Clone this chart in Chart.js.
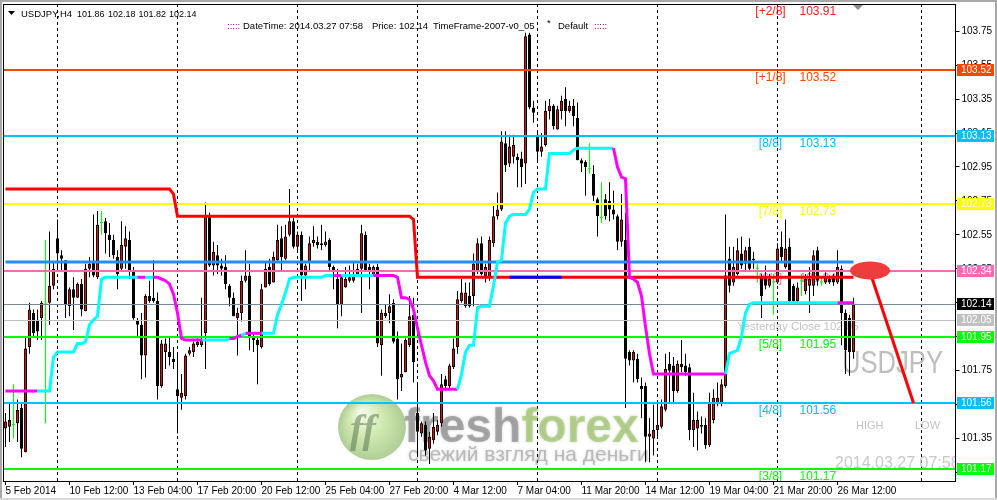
<!DOCTYPE html>
<html>
<head>
<meta charset="utf-8">
<title>USDJPY,H4</title>
<script src="https://cdn.jsdelivr.net/npm/chart.js@4.4.1/dist/chart.umd.min.js"></script>
<style>
    html, body { margin: 0; padding: 0; background: #fff; }
    #wrap { width: 997px; height: 500px; }
</style>
</head>
<body>
<div id="wrap"><canvas id="chart" width="997" height="500"></canvas></div>
<script>
let myChart = null;

// USDJPY H4 bars, 5 Feb 2014 20:00 .. 27 Mar 2014 04:00
const openPrices = [
    101.41, 101.42, 101.43, 101.44, 101.53, 101.27, 101.89, 102.09, 102.05, 102.06,
    102.14, 102.15, 102.25, 102.53, 102.43, 102.40, 102.13, 102.23, 102.18, 102.26,
    102.10, 102.35, 102.39, 102.30, 102.62, 102.63, 102.55, 102.52, 102.42, 102.35,
    102.48, 102.52, 102.34, 102.05, 102.02, 101.84, 102.19, 102.18, 102.16, 101.66,
    101.86, 101.86, 101.82, 101.64, 101.59, 101.60, 101.85, 101.86, 101.90, 101.90,
    101.97, 102.66, 102.37, 102.43, 102.37, 102.36, 102.25, 102.18, 102.06, 102.09,
    102.28, 102.31, 101.95, 101.93, 101.89, 102.24, 102.36, 102.27, 102.40, 102.53,
    102.41, 102.55, 102.63, 102.48, 102.55, 102.31, 102.39, 102.50, 102.51, 102.50,
    102.49, 102.52, 102.36, 102.29, 102.14, 102.24, 102.28, 102.28, 102.31, 102.35,
    102.55, 102.36, 102.31, 102.36, 101.90, 102.07, 102.09, 102.15, 101.94, 101.71,
    101.74, 101.90, 102.08, 101.50, 101.38, 101.43, 101.29, 101.34, 101.39, 101.44,
    101.70, 101.66, 101.77, 101.89, 102.16, 102.13, 102.19, 102.19, 102.34, 102.50,
    102.30, 102.30, 102.50, 102.66, 102.70, 103.09, 102.97, 103.01, 103.01, 103.00,
    102.97, 103.73, 103.30, 103.14, 103.04, 103.08, 103.28, 103.31, 103.17, 103.28,
    103.35, 103.28, 103.31, 103.24, 102.99, 102.98, 102.94, 102.91, 102.76, 102.65,
    102.76, 102.75, 102.70, 102.66, 102.51, 102.52, 101.86, 101.81, 101.82, 101.66,
    101.66, 101.36, 101.35, 101.40, 101.42, 101.52, 101.79, 101.78, 101.63, 101.79,
    101.78, 101.77, 101.40, 101.41, 101.43, 101.43, 101.31, 101.46, 101.56, 101.56,
    101.66, 102.41, 102.27, 102.32, 102.44, 102.38, 102.48, 102.41, 102.35, 102.30,
    102.30, 102.25, 102.27, 102.27, 102.48, 102.36, 102.48, 102.25, 102.16, 102.28,
    102.22, 102.25, 102.25, 102.46, 102.27, 102.27, 102.29, 102.30, 102.27, 102.35,
    102.09, 102.06, 101.86
];
const highPrices = [
    101.50, 101.56, 101.67, 101.58, 101.56, 101.95, 102.15, 102.11, 102.11, 102.16,
    102.52, 102.57, 102.39, 102.64, 102.46, 102.40, 102.24, 102.30, 102.27, 102.29,
    102.38, 102.42, 102.67, 102.69, 102.69, 102.65, 102.62, 102.55, 102.46, 102.63,
    102.60, 102.57, 102.36, 102.06, 102.09, 102.20, 102.28, 102.40, 102.21, 101.93,
    101.94, 101.95, 101.89, 101.85, 101.73, 101.85, 101.89, 101.92, 101.94, 102.18,
    102.74, 102.68, 102.51, 102.49, 102.41, 102.43, 102.26, 102.21, 102.12, 102.31,
    102.46, 102.38, 101.97, 101.95, 102.26, 102.39, 102.41, 102.45, 102.61, 102.60,
    102.61, 102.82, 102.65, 102.57, 102.57, 102.38, 102.54, 102.60, 102.54, 102.61,
    102.57, 102.53, 102.37, 102.35, 102.31, 102.36, 102.37, 102.39, 102.38, 102.61,
    102.57, 102.38, 102.37, 102.38, 102.11, 102.14, 102.20, 102.17, 101.98, 101.91,
    101.94, 102.19, 102.18, 101.68, 101.45, 101.45, 101.39, 101.50, 101.46, 101.73,
    101.72, 101.79, 101.94, 102.22, 102.29, 102.27, 102.27, 102.44, 102.53, 102.54,
    102.38, 102.54, 102.72, 102.80, 103.16, 103.16, 103.14, 103.14, 103.03, 103.04,
    103.74, 103.74, 103.34, 103.16, 103.15, 103.34, 103.35, 103.32, 103.31, 103.37,
    103.42, 103.34, 103.35, 103.33, 103.00, 102.99, 103.09, 102.96, 102.77, 102.86,
    102.79, 102.86, 102.81, 102.67, 102.79, 102.68, 101.87, 101.87, 101.85, 101.71,
    101.68, 101.47, 101.55, 101.56, 101.58, 101.85, 101.86, 101.83, 101.81, 101.93,
    101.85, 101.79, 101.62, 101.51, 101.48, 101.47, 101.62, 101.64, 101.68, 101.70,
    102.67, 102.48, 102.48, 102.53, 102.54, 102.48, 102.53, 102.45, 102.38, 102.32,
    102.37, 102.32, 102.32, 102.50, 102.57, 102.64, 102.53, 102.26, 102.27, 102.32,
    102.32, 102.36, 102.46, 102.48, 102.30, 102.33, 102.31, 102.32, 102.46, 102.37,
    102.11, 102.08, 102.18
];
const lowPrices = [
    101.30, 101.33, 101.35, 101.33, 101.24, 101.27, 101.85, 101.95, 101.93, 101.93,
    101.44, 102.02, 102.23, 102.34, 102.34, 102.06, 102.07, 101.99, 102.18, 102.07,
    102.10, 102.30, 102.30, 102.29, 102.55, 102.44, 102.42, 102.41, 102.23, 102.34,
    102.35, 102.29, 102.05, 101.95, 101.70, 101.71, 102.15, 102.15, 101.58, 101.65,
    101.76, 101.78, 101.76, 101.38, 101.52, 101.58, 101.84, 101.83, 101.89, 101.89,
    101.76, 102.36, 102.31, 102.32, 102.31, 102.23, 102.13, 102.07, 101.84, 102.04,
    102.27, 101.87, 101.86, 101.67, 101.88, 102.24, 102.25, 102.27, 102.39, 102.34,
    102.40, 102.54, 102.47, 102.45, 102.16, 102.23, 102.34, 102.48, 102.47, 102.46,
    102.48, 102.34, 102.23, 102.00, 102.07, 102.24, 102.27, 102.27, 102.31, 102.09,
    102.34, 102.23, 102.31, 101.89, 101.72, 102.06, 102.03, 101.91, 101.58, 101.63,
    101.74, 101.89, 101.68, 101.25, 101.36, 101.25, 101.20, 101.32, 101.37, 101.42,
    101.64, 101.64, 101.76, 101.85, 102.15, 102.12, 102.12, 102.13, 102.32, 102.31,
    102.27, 102.28, 102.48, 102.64, 102.69, 102.92, 102.95, 102.97, 102.83, 102.83,
    102.85, 103.29, 103.21, 102.98, 103.01, 103.07, 103.23, 103.17, 103.17, 103.23,
    103.19, 103.27, 103.19, 102.99, 102.92, 102.78, 102.91, 102.75, 102.54, 102.62,
    102.64, 102.63, 102.64, 102.46, 102.48, 101.53, 101.78, 101.68, 101.68, 101.47,
    101.21, 101.21, 101.25, 101.36, 101.41, 101.51, 101.56, 101.56, 101.62, 101.74,
    101.72, 101.34, 101.30, 101.28, 101.38, 101.29, 101.30, 101.44, 101.54, 101.54,
    101.65, 102.21, 102.25, 102.31, 102.35, 102.34, 102.34, 102.35, 102.27, 102.06,
    102.23, 102.24, 102.08, 102.26, 102.39, 102.35, 102.15, 102.15, 102.15, 102.19,
    102.20, 102.09, 102.19, 102.25, 102.25, 102.26, 102.26, 102.25, 102.26, 101.90,
    101.73, 101.72, 101.82
];
const closePrices = [
    101.45, 101.46, 101.43, 101.52, 101.29, 101.88, 102.11, 101.97, 101.98, 102.15,
    102.14, 102.25, 102.35, 102.44, 102.41, 102.14, 102.23, 102.18, 102.26, 102.11,
    102.35, 102.38, 102.31, 102.61, 102.62, 102.56, 102.52, 102.43, 102.32, 102.49,
    102.53, 102.34, 102.06, 102.02, 101.84, 102.19, 102.16, 102.16, 101.66, 101.91,
    101.91, 101.83, 101.80, 101.60, 101.62, 101.84, 101.87, 101.91, 101.92, 101.93,
    102.66, 102.37, 102.45, 102.37, 102.35, 102.26, 102.18, 102.07, 102.09, 102.28,
    102.31, 101.95, 101.93, 101.90, 102.23, 102.35, 102.26, 102.42, 102.52, 102.42,
    102.54, 102.63, 102.48, 102.55, 102.31, 102.37, 102.50, 102.52, 102.49, 102.49,
    102.51, 102.36, 102.34, 102.14, 102.30, 102.29, 102.30, 102.31, 102.35, 102.56,
    102.34, 102.34, 102.36, 101.91, 102.09, 102.09, 102.13, 101.92, 101.70, 101.73,
    101.93, 102.07, 101.80, 101.39, 101.44, 101.28, 101.36, 101.42, 101.43, 101.67,
    101.66, 101.78, 101.88, 102.17, 102.21, 102.21, 102.13, 102.38, 102.50, 102.32,
    102.36, 102.52, 102.66, 102.70, 103.10, 102.96, 103.07, 103.08, 102.99, 102.95,
    103.72, 103.30, 103.27, 103.04, 103.07, 103.28, 103.31, 103.19, 103.29, 103.34,
    103.28, 103.31, 103.25, 102.99, 102.97, 102.95, 102.94, 102.78, 102.66, 102.65,
    102.66, 102.70, 102.67, 102.51, 102.64, 101.82, 101.81, 101.86, 101.70, 101.64,
    101.36, 101.38, 101.40, 101.43, 101.54, 101.76, 101.75, 101.63, 101.79, 101.77,
    101.74, 101.40, 101.46, 101.46, 101.42, 101.31, 101.56, 101.59, 101.59, 101.67,
    102.31, 102.25, 102.36, 102.46, 102.37, 102.46, 102.35, 102.40, 102.35, 102.19,
    102.25, 102.29, 102.27, 102.47, 102.42, 102.47, 102.16, 102.16, 102.24, 102.28,
    102.29, 102.29, 102.43, 102.28, 102.27, 102.30, 102.27, 102.27, 102.36, 102.09,
    101.87, 101.86, 102.14
];

// trailing stop line (cyan up / magenta down)
const trailLine = [
    101.63, 101.63, 101.63, 101.63, 101.63, 101.63, 101.63, 101.63, 101.63, 101.63,
    101.63, 101.63, 101.83, 101.86, 101.86, 101.86, 101.86, 101.86, 101.91, 101.91,
    101.92, 102.02, 102.05, 102.07, 102.29, 102.30, 102.30, 102.30, 102.30, 102.30,
    102.30, 102.30, 102.30, 102.30, 102.30, 102.30, 102.30, 102.30, 102.30, 102.29,
    102.28, 102.26, 102.20, 102.09, 101.94, 101.93, 101.93, 101.93, 101.93, 101.93,
    101.93, 101.93, 101.93, 101.93, 101.93, 101.93, 101.94, 101.94, 101.95, 101.96,
    101.97, 101.97, 101.97, 101.97, 101.97, 101.97, 101.97, 101.97, 102.08, 102.14,
    102.21, 102.29, 102.30, 102.30, 102.30, 102.30, 102.30, 102.30, 102.30, 102.30,
    102.31, 102.31, 102.31, 102.31, 102.31, 102.31, 102.31, 102.31, 102.31, 102.31,
    102.31, 102.31, 102.31, 102.31, 102.31, 102.31, 102.31, 102.31, 102.30, 102.18,
    102.18, 102.17, 102.11, 102.00, 101.90, 101.80, 101.72, 101.69, 101.64, 101.64,
    101.64, 101.64, 101.64, 101.64, 101.73, 101.86, 101.90, 101.90, 102.12, 102.13,
    102.13, 102.13, 102.25, 102.39, 102.40, 102.62, 102.66, 102.67, 102.67, 102.67,
    102.67, 102.70, 102.80, 102.82, 102.82, 102.82, 103.03, 103.03, 103.03, 103.03,
    103.03, 103.03, 103.05, 103.06, 103.06, 103.06, 103.06, 103.06, 103.06, 103.06,
    103.06, 103.06, 103.06, 102.95, 102.89, 102.88, 102.30, 102.29, 102.27, 102.19,
    102.01, 101.85, 101.73, 101.73, 101.73, 101.73, 101.73, 101.73, 101.73, 101.73,
    101.73, 101.73, 101.73, 101.73, 101.73, 101.73, 101.73, 101.73, 101.73, 101.73,
    101.73, 101.85, 101.86, 101.87, 101.95, 102.09, 102.14, 102.15, 102.15, 102.15,
    102.15, 102.15, 102.15, 102.15, 102.15, 102.15, 102.15, 102.15, 102.15, 102.15,
    102.15, 102.15, 102.15, 102.15, 102.15, 102.15, 102.15, 102.15, 102.15, 102.15,
    102.15, 102.15, 102.15
];
// bar ranges where the trailing line is in its "down" state
const trailDownRanges = [[0, 8], [33, 35], [37, 49], [56, 59], [60, 64], [82, 84], [92, 113], [152, 180], [208, 212]];

// stepped lines, as runs of [bars, price]
const resistRuns = [[42, 102.82], [1, 102.79], [59, 102.66], [1, 102.64], [110, 102.30]];
const resistBlueRuns = [[126, null], [14, 102.30]];
const pivotRuns = [[213, 102.39]];
const forecastRuns = [[216, null], [1, 102.34], [10, null], [1, 101.56]];
const forecastSlot = 216;
const forecastPrice = 102.34;

// Murrey Math levels
const mmNames = ['[+2/8]', '[+1/8]', '[8/8]', '[7/8]', '[6/8]', '[5/8]', '[4/8]', '[3/8]'];
const mmLevels = [103.91, 103.52, 103.13, 102.73, 102.34, 101.95, 101.56, 101.17];
const currentPrice = 102.14;
const yesterdayClose = 102.05;

const yTicks = [101.15, 101.35, 101.55, 101.75, 101.95, 102.15, 102.35, 102.55, 102.75, 102.95, 103.15, 103.35, 103.55, 103.75];
const xTickLabels = ['5 Feb 2014', '10 Feb 12:00', '13 Feb 04:00', '17 Feb 20:00', '20 Feb 12:00', '25 Feb 04:00', '27 Feb 20:00',
    '4 Mar 12:00', '7 Mar 04:00', '11 Mar 20:00', '14 Mar 12:00', '19 Mar 04:00', '21 Mar 20:00', '26 Mar 12:00'];
const xTickEvery = 16;
const weekStarts = [13, 43, 73, 103, 133, 163, 193, 229];
const slotCount = 238;

// styles
const fontName = '"Liberation Sans", Arial, sans-serif';
const mmColors = ['#FF1A1A', '#FF4500', '#00BFFF', '#FFFF00', '#FF69B4', '#00FF00', '#00BFFF', '#00FF00'];

window.onload = function () {
    initChart();
};

function expandRuns(runs) {
    let out = [];
    for (let r of runs) {
        for (let k = 0; k < r[0]; k++) {
            out.push(r[1]);
        }
    }
    return out;
}

function isDoji(i) {
    return Math.abs(openPrices[i] - closePrices[i]) < 0.005;
}

function isTrailDown(i) {
    for (let r of trailDownRanges) {
        if (i >= r[0] && i < r[1]) return true;
    }
    return false;
}

function px(chart, slot) {
    return chart.scales.x.getPixelForValue(slot);
}

function py(chart, v) {
    return chart.scales.y.getPixelForValue(v);
}

function drawWeekLines(chart) {
    let ctx = chart.ctx;
    let area = chart.chartArea;
    ctx.save();
    ctx.strokeStyle = '#000';
    ctx.lineWidth = 1;
    ctx.setLineDash([3, 3]);
    for (let s of weekStarts) {
        let x = Math.floor(px(chart, s)) + 0.5;
        ctx.beginPath();
        ctx.moveTo(x, area.top);
        ctx.lineTo(x, area.bottom);
        ctx.stroke();
    }
    ctx.restore();
}

function drawWatermark(ctx) {
    ctx.save();
    ctx.globalAlpha = 0.5;
    let g = ctx.createRadialGradient(362, 412, 3, 372, 428, 34);
    g.addColorStop(0, '#e4f5c8');
    g.addColorStop(0.45, '#a5d463');
    g.addColorStop(1, '#5f9a2e');
    ctx.fillStyle = g;
    ctx.beginPath();
    ctx.ellipse(372, 427, 34, 33, 0, 0, Math.PI * 2);
    ctx.fill();
    ctx.fillStyle = '#4f6f48';
    ctx.font = 'italic bold 40px "Liberation Serif", serif';
    ctx.fillText('ff', 350, 442);
    ctx.shadowColor = 'rgba(0,0,0,0.35)';
    ctx.shadowBlur = 3;
    ctx.font = 'bold 48px ' + fontName;
    ctx.fillStyle = '#6c6c6c';
    ctx.fillText('fresh', 404, 442);
    let w = ctx.measureText('fresh').width;
    ctx.fillStyle = '#88c43a';
    ctx.fillText('forex', 404 + w, 442);
    ctx.font = '21px ' + fontName;
    ctx.fillStyle = '#8a8a8a';
    ctx.fillText('свежий взгляд на деньги', 408, 461);
    ctx.restore();
}

function drawChartTexts(chart) {
    let ctx = chart.ctx;
    ctx.save();
    ctx.textAlign = 'left';
    ctx.textBaseline = 'alphabetic';
    ctx.fillStyle = '#C4C4C4';
    ctx.font = '11.5px ' + fontName;
    ctx.fillText('Yesterday Close ' + yesterdayClose.toFixed(2), 737, py(chart, yesterdayClose) + 10);

    ctx.font = '11px ' + fontName;
    ctx.fillText('HIGH', 856, 429);
    ctx.fillText('LOW', 915, 429);

    ctx.font = '16px ' + fontName;
    ctx.fillStyle = '#C8C8C8';
    ctx.fillText('2014.03.27 07:58', 835, 468);

    ctx.save();
    ctx.translate(842, 373);
    ctx.scale(0.8, 1);
    ctx.font = '32px ' + fontName;
    ctx.fillStyle = '#BEBEBE';
    ctx.fillText('USDJPY', 0, 0);
    ctx.restore();
    ctx.restore();
}

function drawLevelLabels(chart) {
    let ctx = chart.ctx;
    let right = chart.chartArea.right;
    ctx.save();
    ctx.font = '12px ' + fontName;
    ctx.textBaseline = 'alphabetic';
    for (let k = 0; k < mmLevels.length; k++) {
        let y = py(chart, mmLevels[k]) + 11;
        ctx.fillStyle = mmColors[k];
        ctx.textAlign = 'center';
        ctx.fillText(mmNames[k], right - 185, y);
        ctx.textAlign = 'left';
        ctx.fillText(mmLevels[k].toFixed(2), right - 156, y);
    }
    ctx.restore();
}

function hLine(chart, v, color, width) {
    let ctx = chart.ctx;
    let area = chart.chartArea;
    let y = Math.round(py(chart, v));
    if (width % 2 === 1) y += 0.5;
    ctx.strokeStyle = color;
    ctx.lineWidth = width;
    ctx.beginPath();
    ctx.moveTo(area.left, y);
    ctx.lineTo(area.right, y);
    ctx.stroke();
}

function drawLevelLines(chart) {
    let ctx = chart.ctx;
    ctx.save();
    hLine(chart, yesterdayClose, '#C0C0C0', 1);
    hLine(chart, currentPrice, '#778899', 1);
    for (let k = 1; k < mmLevels.length; k++) {
        hLine(chart, mmLevels[k], mmColors[k], 2);
    }
    ctx.restore();
}

function drawEllipse(chart) {
    let ctx = chart.ctx;
    ctx.save();
    ctx.fillStyle = '#F03C3C';
    ctx.beginPath();
    ctx.ellipse(px(chart, forecastSlot) + 0.5, py(chart, forecastPrice), 20, 9, 0, 0, Math.PI * 2);
    ctx.fill();
    ctx.restore();
}

function drawFrame(chart) {
    let ctx = chart.ctx;
    let area = chart.chartArea;
    ctx.save();
    ctx.fillStyle = '#A8A8A8';
    ctx.fillRect(0, 0, 997, 2);
    ctx.fillRect(0, 0, 2, 500);
    ctx.fillRect(995, 0, 2, 500);
    ctx.fillStyle = '#D8D8D8';
    ctx.fillRect(0, 498, 997, 2);
    ctx.strokeStyle = '#000';
    ctx.lineWidth = 1;
    ctx.strokeRect(Math.floor(area.left) + 0.5, Math.floor(area.top) + 0.5,
        Math.floor(area.right) - Math.floor(area.left), Math.floor(area.bottom) - Math.floor(area.top));
    // chart shift marker
    ctx.fillStyle = '#8C8C8C';
    ctx.beginPath();
    ctx.moveTo(853, 5);
    ctx.lineTo(863, 5);
    ctx.lineTo(858, 10);
    ctx.closePath();
    ctx.fill();
    ctx.restore();
}

function drawAxisBoxes(chart) {
    let ctx = chart.ctx;
    let x0 = Math.floor(chart.chartArea.right) + 2;
    let boxes = [];
    for (let k = 1; k < mmLevels.length; k++) {
        boxes.push([mmLevels[k], mmColors[k]]);
    }
    boxes.push([currentPrice, '#000000']);
    boxes.push([yesterdayClose, '#C0C0C0']);
    ctx.save();
    ctx.font = '10px ' + fontName;
    ctx.textAlign = 'left';
    ctx.textBaseline = 'middle';
    for (let b of boxes) {
        let y = Math.round(py(chart, b[0]));
        ctx.fillStyle = b[1];
        ctx.fillRect(x0, y - 6, 37, 12);
        ctx.fillStyle = '#FFFFFF';
        ctx.fillText(b[0].toFixed(2), x0 + 4, y + 0.5);
    }
    ctx.restore();
}

function drawHeader(chart) {
    let ctx = chart.ctx;
    ctx.save();
    ctx.fillStyle = '#000';
    ctx.beginPath();
    ctx.moveTo(8, 11);
    ctx.lineTo(15, 11);
    ctx.lineTo(11.5, 15);
    ctx.closePath();
    ctx.fill();

    ctx.textAlign = 'left';
    ctx.textBaseline = 'alphabetic';
    ctx.font = '9.5px ' + fontName;
    ctx.fillText('USDJPY,H4', 21, 16.5);
    ctx.font = '9px ' + fontName;
    let ohlc = [openPrices, highPrices, lowPrices, closePrices];
    let xs = [77, 108, 138.5, 169];
    for (let k = 0; k < 4; k++) {
        ctx.fillText(ohlc[k][ohlc[k].length - 1].toFixed(2), xs[k], 16.5);
    }

    ctx.font = '9.5px ' + fontName;
    ctx.fillStyle = '#800080';
    ctx.fillText(':::::', 227, 28.5);
    ctx.fillText(':::::', 594, 28.5);
    ctx.fillStyle = '#000';
    ctx.fillText('DateTime: 2014.03.27 07:58', 243, 28.5);
    ctx.fillText('Price: ' + currentPrice.toFixed(2), 372, 28.5);
    ctx.fillText('TimeFrame-2007-v0_05', 433, 28.5);
    ctx.fillText('*', 547, 26);
    ctx.fillText('Default', 558, 28.5);
    ctx.restore();
}

const mtPlugin = {
    id: 'mt4',
    beforeDatasetsDraw(chart) {
        let ctx = chart.ctx;
        let area = chart.chartArea;
        ctx.save();
        ctx.beginPath();
        ctx.rect(area.left, area.top, area.right - area.left, area.bottom - area.top);
        ctx.clip();
        drawWeekLines(chart);
        drawWatermark(ctx);
        drawChartTexts(chart);
        drawLevelLabels(chart);
        ctx.restore();
    },
    afterDatasetDraw(chart, args) {
        if (chart.data.datasets[args.index].label === 'body') {
            drawLevelLines(chart);
        }
    },
    afterDatasetsDraw(chart) {
        drawEllipse(chart);
    },
    afterDraw(chart) {
        drawFrame(chart);
        drawAxisBoxes(chart);
        drawHeader(chart);
    }
};

function initChart() {
    let ctx = document.getElementById('chart').getContext('2d');

    let slotLabels = [];
    for (let i = 0; i < slotCount; i++) slotLabels.push(String(i));

    let wicks = [], bodies = [], wickColors = [], bodyColors = [], bodyBorders = [];
    for (let i = 0; i < openPrices.length; i++) {
        wicks.push([lowPrices[i], highPrices[i]]);
        bodies.push([openPrices[i], closePrices[i]]);
        if (isDoji(i)) {
            wickColors.push('#00FF00');
            bodyColors.push('#00FF00');
            bodyBorders.push(0);
        } else {
            wickColors.push('#000000');
            bodyColors.push(closePrices[i] > openPrices[i] ? '#FF0000' : '#000000');
            bodyBorders.push(1);
        }
    }

    myChart = new Chart(ctx, {
        type: 'bar',
        data: {
            labels: slotLabels,
            datasets: [{
                type: 'line',
                label: 'forecast',
                data: expandRuns(forecastRuns),
                borderColor: '#FF0000',
                borderWidth: 3,
                pointRadius: 0,
                spanGaps: true,
                order: 1
            }, {
                type: 'line',
                label: 'trail',
                data: trailLine,
                borderColor: '#00FFFF',
                borderWidth: 3,
                pointRadius: 0,
                segment: {
                    borderColor: c => isTrailDown(c.p0DataIndex) ? '#FF00FF' : '#00FFFF'
                },
                order: 2
            }, {
                type: 'line',
                label: 'resistBlue',
                data: expandRuns(resistBlueRuns),
                borderColor: '#0000FF',
                borderWidth: 3,
                pointRadius: 0,
                order: 3
            }, {
                type: 'line',
                label: 'resist',
                data: expandRuns(resistRuns),
                borderColor: '#FF0000',
                borderWidth: 3,
                pointRadius: 0,
                order: 4
            }, {
                type: 'line',
                label: 'pivot',
                data: expandRuns(pivotRuns),
                borderColor: '#1E90FF',
                borderWidth: 3,
                pointRadius: 0,
                order: 5
            }, {
                label: 'body',
                data: bodies,
                backgroundColor: bodyColors,
                borderColor: '#000000',
                borderWidth: bodyBorders,
                borderSkipped: false,
                barThickness: 3,
                minBarLength: 1,
                inflateAmount: 0,
                grouped: false,
                order: 9
            }, {
                label: 'wick',
                data: wicks,
                backgroundColor: wickColors,
                borderWidth: 0,
                barThickness: 1,
                inflateAmount: 0,
                grouped: false,
                order: 10
            }]
        },
        options: {
            responsive: false,
            animation: false,
            events: [],
            layout: { padding: { left: 3.5, top: 4, right: 0, bottom: 0 } },
            plugins: {
                legend: { display: false },
                tooltip: { enabled: false }
            },
            scales: {
                x: {
                    type: 'category',
                    offset: true,
                    border: { display: false },
                    grid: {
                        offset: false,
                        drawOnChartArea: false,
                        drawTicks: true,
                        tickLength: 4,
                        color: 'rgba(0,0,0,0)',
                        tickColor: c => (c.index % xTickEvery === 0 && c.index / xTickEvery < xTickLabels.length) ? '#000' : 'rgba(0,0,0,0)'
                    },
                    ticks: {
                        autoSkip: false,
                        maxRotation: 0,
                        minRotation: 0,
                        align: 'start',
                        padding: 0,
                        color: '#000',
                        font: { family: fontName, size: 10 },
                        callback: (v, i) => (i % xTickEvery === 0 && i / xTickEvery < xTickLabels.length) ? xTickLabels[i / xTickEvery] : ''
                    },
                    afterFit: s => {
                        s.height = 19;
                        s.paddingLeft = 0;
                        s.paddingRight = 0;
                    }
                },
                y: {
                    position: 'right',
                    min: 101.10,
                    max: 103.91,
                    border: { display: false },
                    afterBuildTicks: s => {
                        s.ticks = yTicks.map(v => ({ value: v }));
                    },
                    grid: {
                        drawOnChartArea: false,
                        drawTicks: true,
                        tickLength: 4,
                        color: '#000'
                    },
                    ticks: {
                        padding: 2,
                        color: '#000',
                        font: { family: fontName, size: 10 },
                        callback: v => Number(v).toFixed(2)
                    },
                    afterFit: s => {
                        s.width = 41.5;
                        s.paddingTop = 0;
                        s.paddingBottom = 0;
                    }
                }
            }
        },
        plugins: [mtPlugin]
    });
}
</script>
</body>
</html>
